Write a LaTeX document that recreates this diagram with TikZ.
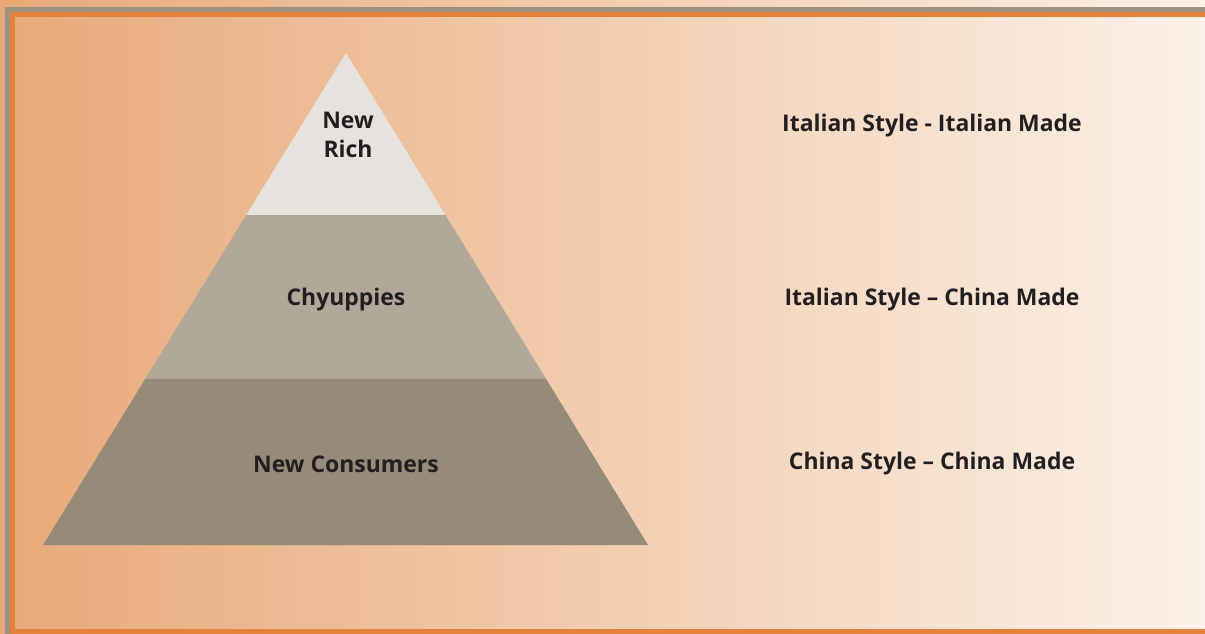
\documentclass[tikz,border=0pt]{standalone}
\usepackage{fontspec}
\setmainfont{Open Sans}
\usetikzlibrary{calc}
\definecolor{sandleft}{HTML}{E8A978}
\definecolor{sandright}{HTML}{FBF1E8}
\definecolor{frame}{HTML}{A09281}
\definecolor{rim}{HTML}{E4813A}
\definecolor{tiertop}{HTML}{E6E2DE}
\definecolor{tiermid}{HTML}{B2A899}
\definecolor{tierlow}{HTML}{968A79}
\definecolor{ink}{HTML}{231F20}

\begin{document}
\begin{tikzpicture}[
  x=.75pt, y=-.75pt,
  font=\bfseries\fontsize{17.2}{21.8}\selectfont,
  tier/.style={draw=none},
  label/.style={text=ink, align=center, inner sep=0pt},
  segment/.style={label, anchor=center}
]
% Page background fades from warm sand to cream.
\shade[left color=sandleft, right color=sandright] (0,0) rectangle (1205,634);
\useasboundingbox (0,0) rectangle (1205,634);

% Double frame, open to the right.
\draw[frame, line width=3.75pt] (7.5,700) -- (7.5,9.5) -- (1300,9.5);
\draw[rim, line width=3.75pt] (12.5,631.5) -- (12.5,14.5) -- (1300,14.5);
\draw[rim, line width=3.75pt] (10,631.5) -- (1300,631.5);

% Pyramid corners and tier cuts
\coordinate (apex) at (346,53);
\coordinate (baseL) at (43,545);
\coordinate (baseR) at (648,545);
\coordinate (cutAL) at ($(apex)!.3293!(baseL)$);
\coordinate (cutAR) at ($(apex)!.3293!(baseR)$);
\coordinate (cutBL) at ($(apex)!.6626!(baseL)$);
\coordinate (cutBR) at ($(apex)!.6626!(baseR)$);

\fill[tier, tiertop] (apex) -- (cutAR) -- (cutAL) -- cycle;
\fill[tier, tiermid] (cutAL) -- (cutAR) -- (cutBR) -- (cutBL) -- cycle;
\fill[tier, tierlow] (cutBL) -- (cutBR) -- (baseR) -- (baseL) -- cycle;

% Tier names
\node[segment] (rich) at (348,135) {New\\Rich};
\node[segment] (yuppies) at (346,300) {Chyuppies};
\node[segment] (consumers) at (346,464) {New Consumers};

% Product positioning for each tier
\node[label] (italmade) at (932,126) {Italian Style - Italian Made};
\node[label] (italstyle) at (932,300) {Italian Style – China Made};
\node[label] (chinamade) at (932,464) {China Style – China Made};
\end{tikzpicture}
\end{document}
